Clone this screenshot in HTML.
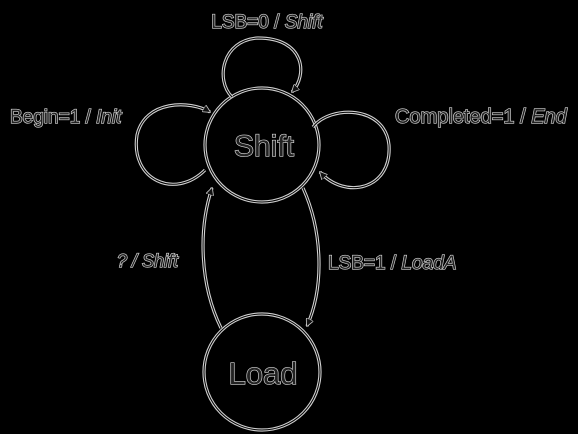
<!DOCTYPE html>
<html><head><meta charset="utf-8"><style>
html,body{margin:0;padding:0;background:#000;}
svg{display:block}
text{font-family:"Liberation Sans",sans-serif;fill:#222;stroke:#d8d8d8;stroke-width:1.3;paint-order:stroke}
.o{fill:none;stroke:#d0d0d0;stroke-width:3.2}
.i{fill:none;stroke:#000;stroke-width:1}
</style></head><body>
<svg width="578" height="434" viewBox="0 0 578 434">
<defs>
<marker id="ah" viewBox="0 0 10 10" refX="9" refY="5" markerWidth="8" markerHeight="8" orient="auto-start-reverse">
<path d="M0,0 L10,5 L0,10 z" fill="#111" stroke="#ccc" stroke-width="1"/>
</marker>
</defs>
<g>
<circle class="o" cx="262" cy="145" r="57"/><circle class="i" cx="262" cy="145" r="57"/>
<text x="264" y="156" font-size="30" text-anchor="middle">Shift</text>
</g>
<g>
<circle class="o" cx="262" cy="372" r="58"/><circle class="i" cx="262" cy="372" r="58"/>
<text x="263" y="384" font-size="31" text-anchor="middle">Load</text>
</g>
<g>
<path class="o" d="M232,97 C215,80 222,40 258,38 C305,38 308,75 292,92"/>
<path class="i" d="M232,97 C215,80 222,40 258,38 C305,38 308,75 292,92" marker-end="url(#ah)"/>
</g>
<g>
<path class="o" d="M205,170 C175,200 130,180 137,135 C145,100 190,100 210,112"/>
<path class="i" d="M205,170 C175,200 130,180 137,135 C145,100 190,100 210,112" marker-end="url(#ah)"/>
</g>
<g>
<path class="o" d="M313,127 C330,105 385,105 389,145 C392,190 345,200 320,172"/>
<path class="i" d="M313,127 C330,105 385,105 389,145 C392,190 345,200 320,172" marker-end="url(#ah)"/>
</g>
<g>
<path class="o" d="M221,328 C200,285 198,230 212,188"/>
<path class="i" d="M221,328 C200,285 198,230 212,188" marker-end="url(#ah)"/>
</g>
<g>
<path class="o" d="M303,188 C322,230 325,285 307,326"/>
<path class="i" d="M303,188 C322,230 325,285 307,326" marker-end="url(#ah)"/>
</g>
<text x="267" y="28" font-size="19" text-anchor="middle">LSB=0 / <tspan font-style="italic">Shift</tspan></text>
<text x="10" y="123" font-size="19">Begin=1 / <tspan font-style="italic">Init</tspan></text>
<text x="395" y="123" font-size="20">Completed=1 / <tspan font-style="italic">End</tspan></text>
<text x="117" y="267" font-size="18" font-style="italic">? / Shift</text>
<text x="328" y="269" font-size="19">LSB=1 / <tspan font-style="italic">LoadA</tspan></text>
</svg>
</body></html>
